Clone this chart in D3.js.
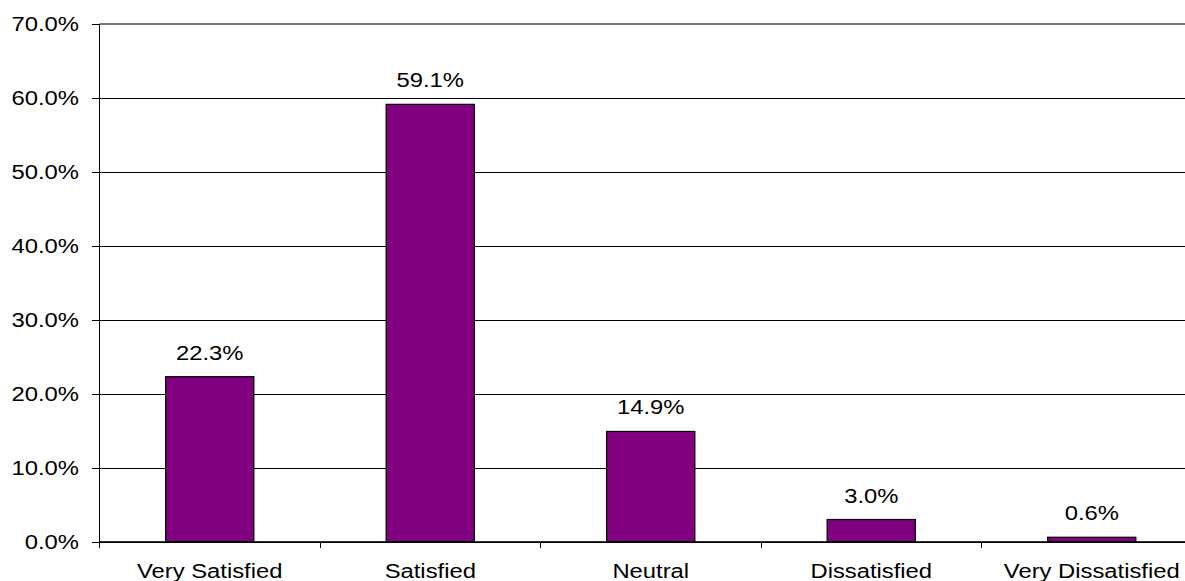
<!DOCTYPE html>
<html>
<head>
<meta charset="utf-8">
<script src="https://cdn.jsdelivr.net/npm/d3@7"></script>
<style>
  html, body { margin: 0; padding: 0; background: #fff; }
  svg { display: block; }
  text { font-family: "Liberation Sans", Arial, sans-serif; fill: #000; }
</style>
</head>
<body>
<svg id="chart" width="1185" height="581"></svg>
<script>
const categories = ["Very Satisfied", "Satisfied", "Neutral", "Dissatisfied", "Very Dissatisfied"];
const values = [22.3, 59.1, 14.9, 3.0, 0.6];
const yTicks = [0, 10, 20, 30, 40, 50, 60, 70];

const plotLeft = 99.5, plotTop = 23.7, plotBottom = 541.7;
const step = 220.5;
const plotRight = plotLeft + step * categories.length;
const stretch = 1.19;
const fontSize = 20;

const svg = d3.select("#chart");

const x = d3.scaleBand().domain(categories).range([plotLeft, plotRight]).padding(0);
const y = d3.scaleLinear().domain([0, 70]).range([plotBottom, plotTop]);
const fmt = v => v.toFixed(1) + "%";

// gridlines
const grid = svg.append("g").attr("transform", `translate(${plotLeft},0)`)
  .call(d3.axisLeft(y).tickValues(yTicks).tickSize(-(plotRight - plotLeft)).tickFormat(""));
grid.select(".domain").remove();
grid.selectAll(".tick line")
  .attr("stroke", (d) => d === 70 ? "#777" : "#000")
  .attr("stroke-width", (d) => d === 70 ? 1.5 : 1)
  .attr("shape-rendering", "crispEdges");

// bars
const barW = x.bandwidth() * 0.4;
svg.append("g").selectAll("rect").data(values).join("rect")
  .attr("x", (d, i) => x(categories[i]) + (x.bandwidth() - barW) / 2)
  .attr("y", d => y(d))
  .attr("width", barW)
  .attr("height", d => y(0) - y(d))
  .attr("fill", "#800080")
  .attr("stroke", "#000")
  .attr("stroke-width", 1.2);

// value labels
svg.append("g").selectAll("text").data(values).join("text")
  .attr("transform", (d, i) => `translate(${x(categories[i]) + x.bandwidth() / 2},${y(d) - 17}) scale(${stretch},1)`)
  .attr("text-anchor", "middle")
  .attr("font-size", fontSize)
  .text(d => fmt(d));

// y axis
const yAxis = svg.append("g").attr("transform", `translate(${plotLeft},0)`)
  .call(d3.axisLeft(y).tickValues(yTicks).tickSize(8).tickPadding(0).tickFormat(fmt));
yAxis.select(".domain").attr("stroke", "#000").attr("d", `M0,${y(70)}V${y(0) + 6.5}`);
yAxis.selectAll(".tick line").attr("stroke", "#000").attr("shape-rendering", "crispEdges");
yAxis.selectAll(".tick text")
  .attr("x", null).attr("dy", null)
  .attr("font-size", fontSize)
  .attr("font-family", "Liberation Sans, Arial, sans-serif")
  .attr("fill", "#000")
  .attr("text-anchor", "end")
  .attr("transform", `translate(-20.5,7) scale(${stretch},1)`);

// x axis
const xAxis = svg.append("g").attr("transform", `translate(0,${plotBottom})`)
  .call(d3.axisBottom(x).tickSize(0).tickFormat(""));
xAxis.select(".domain").attr("stroke", "#000").attr("d", `M${plotLeft},0H${plotRight}`);
xAxis.selectAll(".tick").remove();
const bounds = categories.map(c => x(c)).slice(1);
xAxis.append("g").selectAll("line").data(bounds).join("line")
  .attr("x1", d => d).attr("x2", d => d)
  .attr("y1", 0).attr("y2", 6.5)
  .attr("stroke", "#000").attr("shape-rendering", "crispEdges");
xAxis.append("g").selectAll("text").data(categories).join("text")
  .attr("transform", d => `translate(${x(d) + x.bandwidth() / 2},36) scale(${stretch},1)`)
  .attr("text-anchor", "middle")
  .attr("font-size", fontSize)
  .text(d => d);
</script>
</body>
</html>
